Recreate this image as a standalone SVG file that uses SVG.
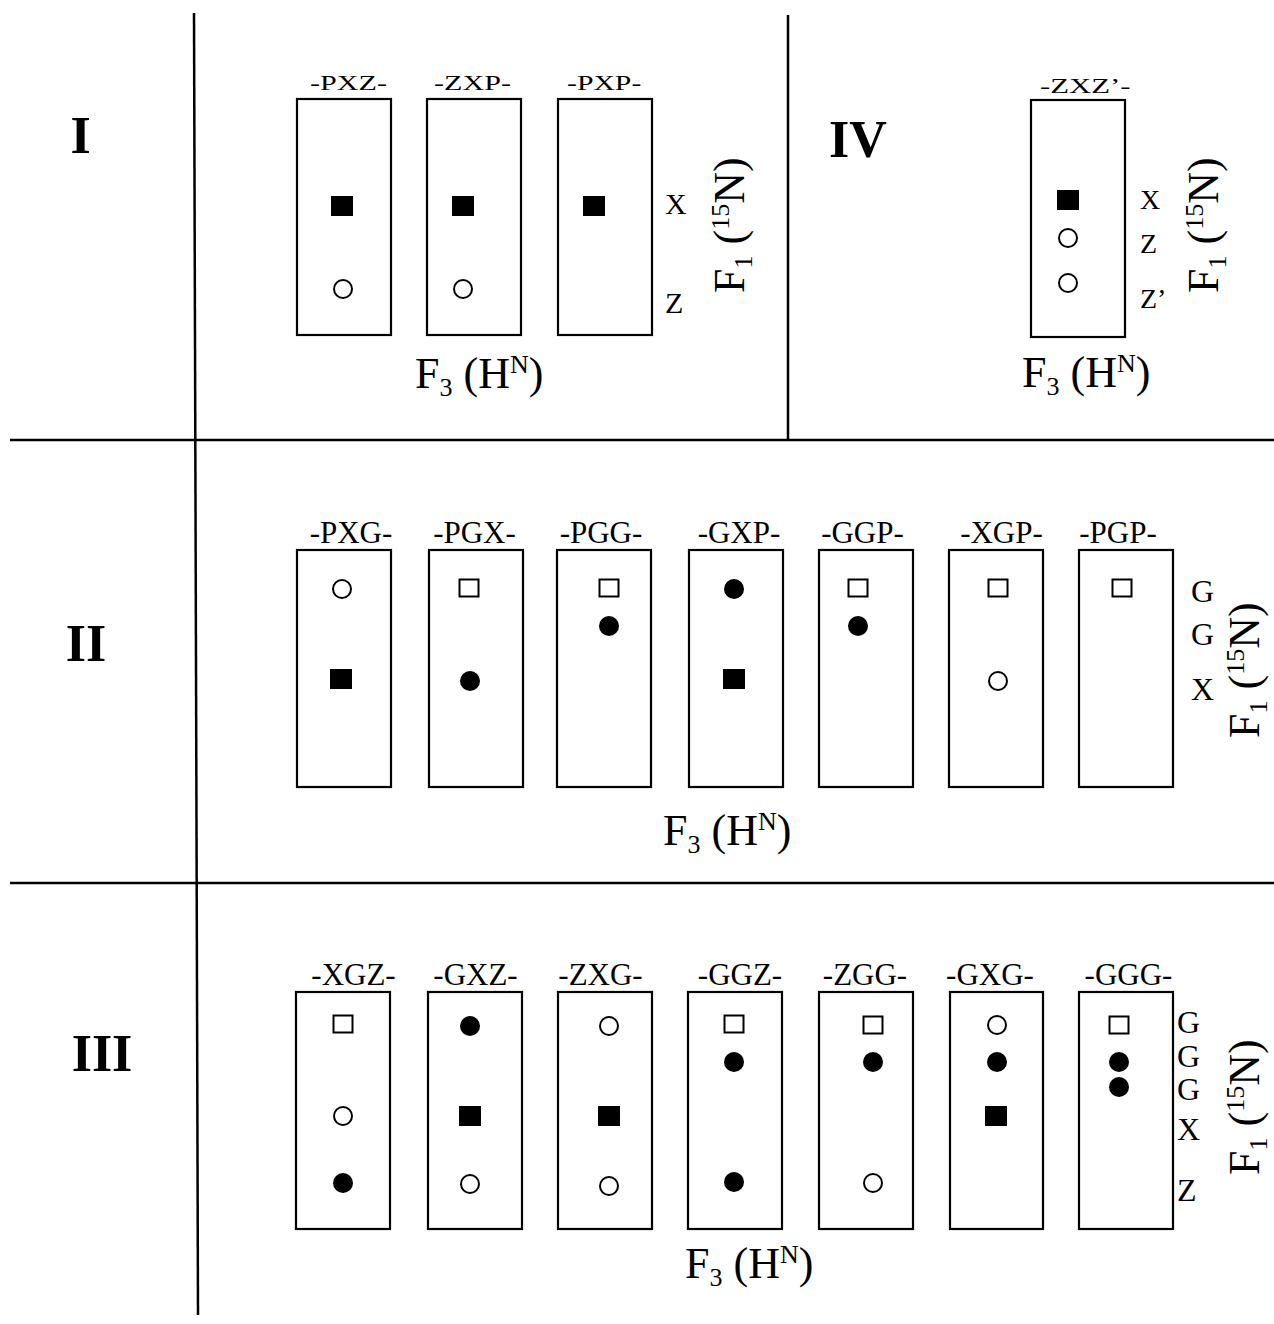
<svg xmlns="http://www.w3.org/2000/svg" width="1274" height="1324" viewBox="0 0 1274 1324">
<style>
text{font-family:"Liberation Serif","Times New Roman",serif;fill:#000}
.rn{font-size:52px;font-weight:bold}
.box{fill:#fff;stroke:#000;stroke-width:2.2}
.lbs{font-size:20.5px}
.lb{font-size:31px;text-anchor:middle}
.ax{font-size:30px}
.ax4{font-size:28px}
.ax2{font-size:32px}
.fa{font-size:44px}
.sep{stroke:#000;stroke-width:2.5;fill:none}
</style>
<defs>
<rect id="fs" x="-11" y="-10" width="22" height="20" fill="#000"/>
<rect id="os" x="-9.5" y="-8.5" width="19" height="17" fill="#fff" stroke="#000" stroke-width="2"/>
<circle id="fc" r="10" fill="#000"/>
<circle id="oc" r="9" fill="#fff" stroke="#000" stroke-width="2"/>
</defs>
<rect width="1274" height="1324" fill="#fff"/>
<g id="connectors">
<line class="sep" x1="194" y1="13" x2="198" y2="1315"/>
<line class="sep" x1="10" y1="440" x2="1274" y2="440"/>
<line class="sep" x1="10" y1="883" x2="1274" y2="883"/>
<line class="sep" x1="788" y1="15" x2="788" y2="440"/>
</g>
<g id="numerals">
<text class="rn" x="80.5" y="153" text-anchor="middle">I</text>
<text class="rn" x="858" y="157" text-anchor="middle">IV</text>
<text class="rn" x="86" y="661" text-anchor="middle">II</text>
<text class="rn" x="102" y="1071" text-anchor="middle">III</text>
</g>
<g id="section-I">
<g id="I-PXZ"><rect class="box" x="297" y="99" width="94" height="236"/><text class="lbs" transform="translate(310,90) scale(1.47,1)">-PXZ-</text><use href="#fs" x="342" y="206"/><use href="#oc" x="343" y="289"/></g>
<g id="I-ZXP"><rect class="box" x="427" y="99" width="94" height="236"/><text class="lbs" transform="translate(434,90) scale(1.47,1)">-ZXP-</text><use href="#fs" x="463" y="206"/><use href="#oc" x="463" y="289"/></g>
<g id="I-PXP"><rect class="box" x="558" y="99" width="94" height="236"/><text class="lbs" transform="translate(567,90) scale(1.45,1)">-PXP-</text><use href="#fs" x="594" y="206"/></g>
<text class="ax" x="665" y="214">X</text>
<text class="ax" x="665" y="313">Z</text>
<text class="fa" x="415" y="388">F<tspan font-size="26" dy="8">3</tspan><tspan dy="-8"> (H</tspan><tspan font-size="26" dy="-15">N</tspan><tspan dy="15">)</tspan></text>
<text class="fa" transform="translate(744,293) rotate(-90)">F<tspan font-size="26" dy="8">1</tspan><tspan dy="-8"> (</tspan><tspan font-size="26" dy="-15">15</tspan><tspan dy="15">N)</tspan></text>
</g>
<g id="section-IV">
<g id="IV-ZXZ"><rect class="box" x="1031" y="100" width="94" height="237"/><text class="lbs" transform="translate(1040,93) scale(1.5,1)">-ZXZ’-</text><use href="#fs" x="1068" y="200"/><use href="#oc" x="1068" y="238"/><use href="#oc" x="1068" y="283"/></g>
<text class="ax4" x="1140" y="209">X</text>
<text class="ax4" x="1140" y="253">Z</text>
<text class="ax4" x="1140" y="308">Z’</text>
<text class="fa" x="1022" y="387">F<tspan font-size="26" dy="8">3</tspan><tspan dy="-8"> (H</tspan><tspan font-size="26" dy="-15">N</tspan><tspan dy="15">)</tspan></text>
<text class="fa" transform="translate(1218,293) rotate(-90)">F<tspan font-size="26" dy="8">1</tspan><tspan dy="-8"> (</tspan><tspan font-size="26" dy="-15">15</tspan><tspan dy="15">N)</tspan></text>
</g>
<g id="section-II">
<g id="II-PXG"><rect class="box" x="297" y="550" width="94" height="237"/><text class="lb" x="351" y="543">-PXG-</text><use href="#oc" x="342" y="589"/><use href="#fs" x="341" y="679"/></g>
<g id="II-PGX"><rect class="box" x="429" y="550" width="94" height="237"/><text class="lb" x="474.5" y="543">-PGX-</text><use href="#os" x="469" y="588"/><use href="#fc" x="470" y="681"/></g>
<g id="II-PGG"><rect class="box" x="557" y="550" width="94" height="237"/><text class="lb" x="601" y="543">-PGG-</text><use href="#os" x="609" y="588"/><use href="#fc" x="609" y="626"/></g>
<g id="II-GXP"><rect class="box" x="689" y="550" width="94" height="237"/><text class="lb" x="739" y="543">-GXP-</text><use href="#fc" x="734" y="589"/><use href="#fs" x="734" y="679"/></g>
<g id="II-GGP"><rect class="box" x="819" y="550" width="94" height="237"/><text class="lb" x="862.5" y="543">-GGP-</text><use href="#os" x="858" y="588"/><use href="#fc" x="858" y="626"/></g>
<g id="II-XGP"><rect class="box" x="949" y="550" width="94" height="237"/><text class="lb" x="1001.5" y="543">-XGP-</text><use href="#os" x="998" y="588"/><use href="#oc" x="998" y="681"/></g>
<g id="II-PGP"><rect class="box" x="1079" y="550" width="94" height="237"/><text class="lb" x="1118" y="543">-PGP-</text><use href="#os" x="1122" y="588"/></g>
<text class="ax2" x="1191" y="602">G</text>
<text class="ax2" x="1191" y="645">G</text>
<text class="ax2" x="1191" y="700">X</text>
<text class="fa" x="663" y="845">F<tspan font-size="26" dy="8">3</tspan><tspan dy="-8"> (H</tspan><tspan font-size="26" dy="-15">N</tspan><tspan dy="15">)</tspan></text>
<text class="fa" transform="translate(1259,738) rotate(-90)">F<tspan font-size="26" dy="8">1</tspan><tspan dy="-8"> (</tspan><tspan font-size="26" dy="-15">15</tspan><tspan dy="15">N)</tspan></text>
</g>
<g id="section-III">
<g id="III-XGZ"><rect class="box" x="296" y="992" width="94" height="237"/><text class="lb" x="353.5" y="985">-XGZ-</text><use href="#os" x="343" y="1024"/><use href="#oc" x="343" y="1116"/><use href="#fc" x="343" y="1183"/></g>
<g id="III-GXZ"><rect class="box" x="428" y="992" width="94" height="237"/><text class="lb" x="475.5" y="985">-GXZ-</text><use href="#fc" x="470" y="1026"/><use href="#fs" x="470" y="1116"/><use href="#oc" x="470" y="1184"/></g>
<g id="III-ZXG"><rect class="box" x="558" y="992" width="94" height="237"/><text class="lb" x="600.5" y="985">-ZXG-</text><use href="#oc" x="609" y="1026"/><use href="#fs" x="609" y="1116"/><use href="#oc" x="609" y="1186"/></g>
<g id="III-GGZ"><rect class="box" x="688" y="992" width="94" height="237"/><text class="lb" x="740" y="985">-GGZ-</text><use href="#os" x="734" y="1024"/><use href="#fc" x="734" y="1062"/><use href="#fc" x="734" y="1182"/></g>
<g id="III-ZGG"><rect class="box" x="819" y="992" width="94" height="237"/><text class="lb" x="865" y="985">-ZGG-</text><use href="#os" x="873" y="1025"/><use href="#fc" x="873" y="1062"/><use href="#oc" x="873" y="1183"/></g>
<g id="III-GXG"><rect class="box" x="950" y="992" width="93" height="237"/><text class="lb" x="990" y="985">-GXG-</text><use href="#oc" x="997" y="1025"/><use href="#fc" x="997" y="1062"/><use href="#fs" x="996" y="1116"/></g>
<g id="III-GGG"><rect class="box" x="1079" y="992" width="94" height="237"/><text class="lb" x="1128.5" y="985">-GGG-</text><use href="#os" x="1119" y="1025"/><use href="#fc" x="1119" y="1062"/><use href="#fc" x="1119" y="1087"/></g>
<text class="ax2" x="1177" y="1033">G</text>
<text class="ax2" x="1177" y="1067">G</text>
<text class="ax2" x="1177" y="1100">G</text>
<text class="ax2" x="1177" y="1140">X</text>
<text class="ax2" x="1177" y="1201">Z</text>
<text class="fa" x="685" y="1278">F<tspan font-size="26" dy="8">3</tspan><tspan dy="-8"> (H</tspan><tspan font-size="26" dy="-15">N</tspan><tspan dy="15">)</tspan></text>
<text class="fa" transform="translate(1259,1175) rotate(-90)">F<tspan font-size="26" dy="8">1</tspan><tspan dy="-8"> (</tspan><tspan font-size="26" dy="-15">15</tspan><tspan dy="15">N)</tspan></text>
</g>
</svg>
